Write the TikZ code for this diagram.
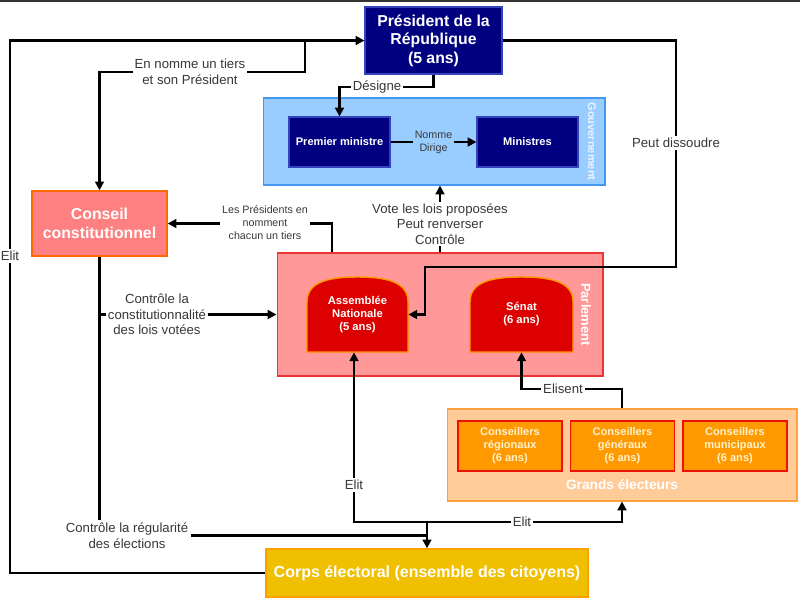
\documentclass[tikz,border=0pt]{standalone}
\usepackage{fontspec}
\setmainfont{Liberation Sans}
\usetikzlibrary{arrows.meta}
\definecolor{navy}{HTML}{000080}
\definecolor{navyborder}{HTML}{3344BB}
\definecolor{gouvfill}{HTML}{99CCFF}
\definecolor{gouvborder}{HTML}{4499EE}
\definecolor{ccfill}{HTML}{FF8080}
\definecolor{ccborder}{HTML}{FF6A00}
\definecolor{parlfill}{HTML}{FF9999}
\definecolor{parlborder}{HTML}{EE3333}
\definecolor{domefill}{HTML}{DD0000}
\definecolor{domeborder}{HTML}{FF9900}
\definecolor{gefill}{HTML}{FFCC99}
\definecolor{geborder}{HTML}{FFA040}
\definecolor{cofill}{HTML}{FF9900}
\definecolor{coborder}{HTML}{EE1100}
\definecolor{corpsfill}{HTML}{F0C000}
\definecolor{corpsborder}{HTML}{FFA000}
\definecolor{lblgray}{HTML}{383838}
\definecolor{cotext}{HTML}{FFF2CC}
\definecolor{gouvtext}{HTML}{EAF4FF}
\definecolor{topbar}{HTML}{333333}
\begin{document}
\begin{tikzpicture}[x=0.02cm,y=-0.02cm,
  conn/.style={line width=1.25pt,draw=black,line join=miter},
  arr/.style={-{Triangle[length=5pt,width=5pt]}},
  lbl/.style={font=\fontsize{7.5}{8.8}\selectfont,text=lblgray,fill=white,inner sep=1.2pt,align=center},
  slbl/.style={lbl,font=\fontsize{6.1}{7.4}\selectfont},
  navybox/.style={draw=navyborder,fill=navy,line width=0.6pt,text=white,align=center,inner sep=0pt},
  gouvbox/.style={draw=gouvborder,fill=gouvfill,line width=0.6pt,inner sep=0pt},
  ccbox/.style={draw=ccborder,fill=ccfill,line width=0.8pt,text=white,align=center,inner sep=0pt,
    font=\bfseries\fontsize{9}{10.5}\selectfont},
  parlbox/.style={draw=parlborder,fill=parlfill,line width=0.6pt,inner sep=0pt},
  domestyle/.style={draw=domeborder,fill=domefill,line width=0.8pt},
  domelbl/.style={text=white,align=center,inner sep=0pt,font=\bfseries\fontsize{6.4}{7.4}\selectfont,
    minimum width=20.2mm,minimum height=15mm},
  gebox/.style={draw=geborder,fill=gefill,line width=0.6pt,inner sep=0pt},
  cobox/.style={draw=coborder,fill=cofill,line width=0.8pt,text=cotext,align=center,inner sep=0pt,
    font=\bfseries\fontsize{6.3}{7.4}\selectfont,minimum width=20.8mm,minimum height=10mm},
  corpsbox/.style={draw=corpsborder,fill=corpsfill,line width=0.8pt,text=white,inner sep=0pt,
    font=\bfseries\fontsize{9.1}{11}\selectfont},
  vlbl/.style={rotate=-90,inner sep=0pt,font=\bfseries}
]
\useasboundingbox (0,0) rectangle (800,600);
\fill[white] (0,0) rectangle (800,600);
\fill[topbar] (0,0) rectangle (800,1.5);

% ---- boxes ----
\node[navybox,font=\bfseries\fontsize{9}{10.5}\selectfont,minimum width=27.4mm,minimum height=13.4mm]
  (pres) at (433.5,40.5) {Président de la\\République\\(5 ans)};

\node[gouvbox,minimum width=68.4mm,minimum height=17.4mm] (gouv) at (434,141.5) {};
\node[vlbl,text=gouvtext,font=\bfseries\fontsize{6.3}{7.4}\selectfont] (gouvlbl) at (592,141.5) {Gouvernement};
\node[navybox,font=\bfseries\fontsize{6.3}{7.4}\selectfont,minimum width=20.2mm,minimum height=10mm]
  (pm) at (339.5,142) {Premier ministre};
\node[navybox,font=\bfseries\fontsize{6.3}{7.4}\selectfont,minimum width=20.2mm,minimum height=10mm]
  (min) at (527.5,142) {Ministres};

\node[ccbox,minimum width=27mm,minimum height=13mm] (cc) at (99.5,223.5) {Conseil\\constitutionnel};

\node[parlbox,minimum width=65.2mm,minimum height=24.6mm] (parl) at (440,314.5) {};
\node[vlbl,text=white,font=\bfseries\fontsize{7.4}{8}\selectfont] (parllbl) at (586,314.5) {Parlement};

\filldraw[domestyle] (307,352) -- (307,302) .. controls (307,282) and (328,277) .. (357.5,277)
  .. controls (387,277) and (408,282) .. (408,302) -- (408,352) -- cycle;
\node[domelbl] (an) at (357.5,314.5) {Assemblée\\Nationale\\(5 ans)};
\filldraw[domestyle] (470,352) -- (470,302) .. controls (470,282) and (491,277) .. (521.5,277)
  .. controls (552,277) and (573,282) .. (573,302) -- (573,352) -- cycle;
\node[domelbl] (senat) at (521.5,314.5) {Sénat\\(6 ans)};

\node[gebox,minimum width=70mm,minimum height=18.4mm] (ge) at (622,455) {};
\node[cobox] (creg) at (510,446) {Conseillers\\régionaux\\(6 ans)};
\node[cobox] (cgen) at (622.5,446) {Conseillers\\généraux\\(6 ans)};
\node[cobox] (cmun) at (735,446) {Conseillers\\municipaux\\(6 ans)};
\node[text=white,inner sep=0pt,font=\bfseries\fontsize{7.8}{9}\selectfont] (gelbl) at (622,485) {Grands électeurs};

\node[corpsbox,minimum width=64.4mm,minimum height=9.6mm] (corps) at (427,573)
  {Corps électoral (ensemble des citoyens)};

% ---- connectors ----
\draw[conn,arr] (corps.west) -| (10,40.5) -- (pres.west);
\draw[conn,arr] (305,40.5) |- (cc.north |- 0,72) -- (cc.north);
\draw[conn,arr] (pres.south) |- (pm.north |- 0,87) -- (pm.north);
\draw[conn,arr] (pm) -- node[slbl,fill=gouvfill] {Nomme\\Dirige} (min);
\draw[conn,arr] (pres.east) -| (676,267) -- (425,267) |- (an.east);
\draw[conn,arr] (parl.north -| 332,0) |- (cc.east);
\draw[conn,arr] (parl.north) -- (gouv.south -| parl.north);
\draw[conn,arr] (cc.south |- parl.west) -- (parl.west);
\node[lbl] (creglbl) at (127,535.5) {Contrôle la régularité\\des élections};
\draw[conn] (cc.south) -- (cc.south |- creglbl.north);
\draw[conn] (creglbl.east) -- (creglbl.east -| corps.north);
\coordinate (jc) at (427,522);
\draw[conn,arr] (jc) -- (corps.north);
\draw[conn,arr] (jc) -- (354,522) -- (an.south -| 354,0);
\draw[conn,arr] (jc) -| (ge.south);
\draw[conn,arr] (ge.north) |- (senat.south |- 0,389) -- (senat.south);

% ---- labels ----
\node[lbl] at (10,256) {Elit};
\node[lbl] at (190,72) {En nomme un tiers\\et son Président};
\node[lbl] at (377,87) {Désigne};
\node[lbl] at (676,143) {Peut dissoudre};
\node[slbl] at (265,223) {Les Présidents en\\nomment\\chacun un tiers};
\node[lbl] at (440,224) {Vote les lois proposées\\Peut renverser\\Contrôle};
\node[lbl] at (157,314.5) {Contrôle la\\constitutionnalité\\des lois votées};
\node[lbl] at (354,485) {Elit};
\node[lbl] at (522,522) {Elit};
\node[lbl] at (563,389) {Elisent};
\end{tikzpicture}
\end{document}
